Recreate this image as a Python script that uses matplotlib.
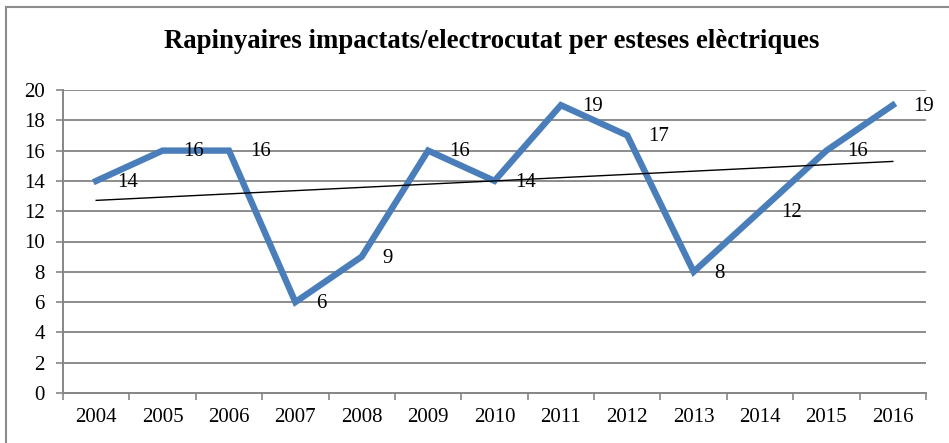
import numpy as np
import matplotlib.pyplot as plt
from matplotlib.lines import Line2D

years = ['2004', '2005', '2006', '2007', '2008', '2009', '2010',
         '2011', '2012', '2013', '2014', '2015', '2016']
values = [14, 16, 16, 6, 9, 16, 14, 19, 17, 8, 12, 16, 19]
title = 'Rapinyaires impactats/electrocutat per esteses elèctriques'

plt.rcParams['font.family'] = ['Liberation Serif', 'DejaVu Serif']

fig = plt.figure(figsize=(9.49, 4.43), dpi=100)
ax = fig.add_axes([63 / 949, 50 / 443, 863 / 949, 303 / 443])

x = np.arange(len(years))
ax.plot(x, values, color='#4A7EBB', lw=4.6, solid_joinstyle='miter', zorder=3)

# linear trend line
k, b = np.polyfit(x, values, 1)
ax.plot(x, k * x + b, color='black', lw=1.0, zorder=4)

for xi, v in zip(x, values):
    ax.annotate(str(v), (xi, v), xytext=(15, -1), textcoords='offset points',
                ha='left', va='center', fontsize=15, zorder=5)

ax.set_xlim(-0.5, len(years) - 0.5)
ax.set_ylim(0, 20)
ax.set_yticks(range(0, 21, 2))
ax.set_xticks(x)
ax.set_xticklabels(years)
ax.set_xticks(np.arange(-0.5, len(years)), minor=True)
ax.tick_params(axis='x', which='major', length=0, labelsize=15, pad=11)
ax.tick_params(axis='x', which='minor', length=5, width=1.2, color='#868686', direction='out')
ax.tick_params(axis='y', length=5, width=1.2, color='#868686', labelsize=15, pad=8)

ax.grid(axis='y', color='#8c8c8c', lw=1.4)
ax.set_axisbelow(True)
for s in ['top', 'right']:
    ax.spines[s].set_visible(False)
for s in ['left', 'bottom']:
    ax.spines[s].set_color('#868686')
    ax.spines[s].set_linewidth(1.4)

fig.text(492 / 949, 1 - 41 / 443, title, ha='center', va='center',
         fontsize=19.3, fontweight='bold')

# outer chart border (top and left visible)
fig.add_artist(Line2D([6 / 949, 1], [1 - 7 / 443, 1 - 7 / 443],
                      transform=fig.transFigure, color='#8c8c8c', lw=1.5))
fig.add_artist(Line2D([6 / 949, 6 / 949], [0, 1 - 7 / 443],
                      transform=fig.transFigure, color='#8c8c8c', lw=1.5))

fig.savefig('out.png', dpi=100, facecolor='white')
